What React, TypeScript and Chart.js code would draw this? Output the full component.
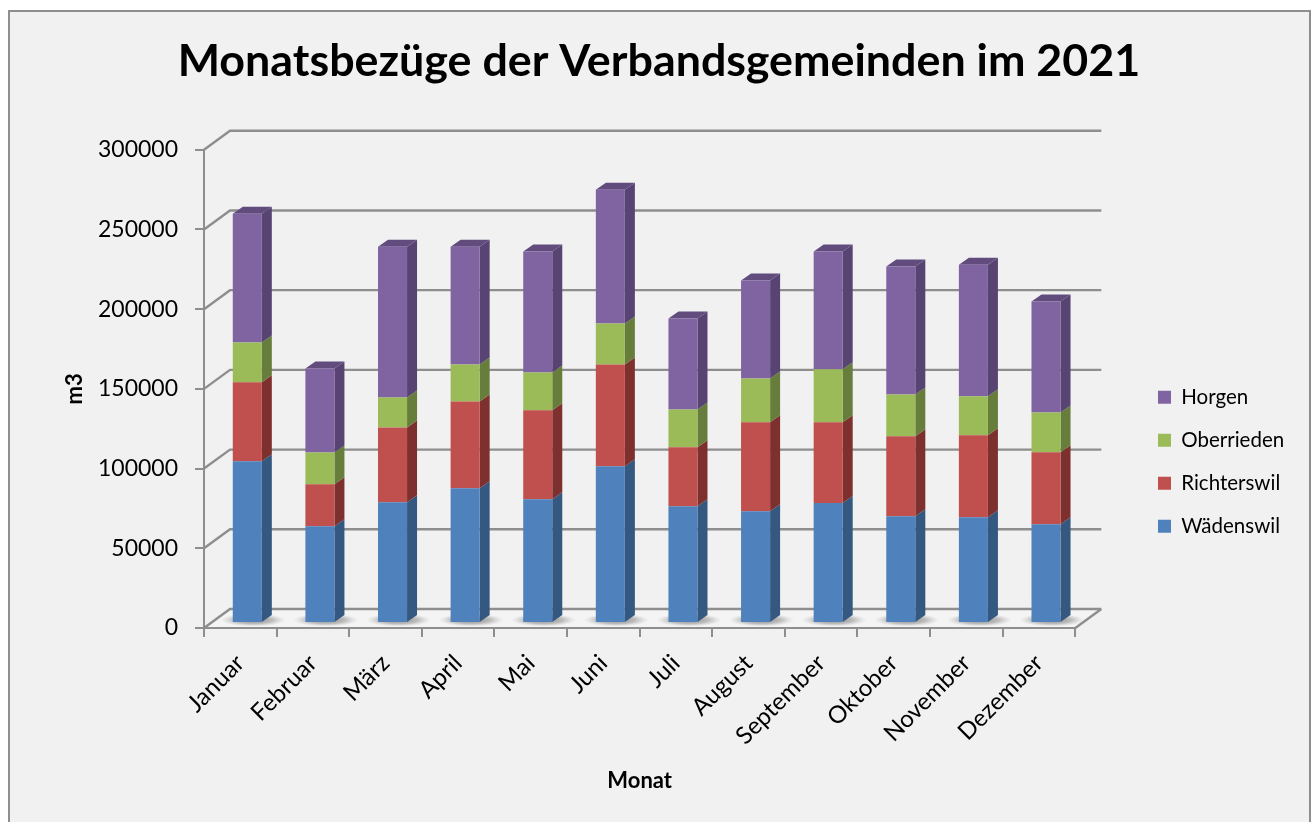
import React, { useEffect, useRef } from "react";
import { Chart, registerables } from "chart.js";

Chart.register(...registerables);

const months = ["Januar", "Februar", "März", "April", "Mai", "Juni", "Juli", "August", "September", "Oktober", "November", "Dezember"];
const waedenswil = [101500, 60700, 75800, 84500, 77600, 98300, 73300, 70100, 75200, 67000, 66400, 62000];
const richterswil = [49500, 26300, 46900, 54500, 55800, 63900, 36900, 55800, 50700, 50100, 51300, 45100];
const oberrieden = [25000, 20000, 18800, 23200, 23800, 25700, 23800, 27500, 33200, 26300, 24500, 25000];
const horgen = [80800, 52700, 94500, 73800, 75800, 83900, 57000, 61400, 73900, 80200, 82600, 69600];

const seriesNames = ["Wädenswil", "Richterswil", "Oberrieden", "Horgen"];
const faceColors = ["#4f81bd", "#c0504d", "#9bbb59", "#8064a2"];
const sideColors = ["#34587f", "#7e302e", "#677d3b", "#574472"];
const topColor = "#624c7e";

const FONT = "Lato";
const GRID = "#8e8e8e";
const BG = "#f1f1f1";
const WALL_DX = 26, WALL_DY = 19;
const BAR_DX = 7, BAR_DY = 5;
const SIDE_DX = 10, SIDE_DY = 7;

const scene3d = {
  id: "scene3d",
  beforeDraw(chart: any) {
    const { ctx, chartArea: a, scales } = chart;
    ctx.save();
    ctx.fillStyle = "#ffffff";
    ctx.fillRect(0, 0, chart.width, chart.height);
    ctx.fillStyle = BG;
    ctx.strokeStyle = "#8f8f8f";
    ctx.lineWidth = 2;
    ctx.beginPath();
    ctx.rect(9, 11, 1301, 830);
    ctx.fill();
    ctx.stroke();

    // floor
    ctx.beginPath();
    ctx.moveTo(a.left, a.bottom);
    ctx.lineTo(a.left + WALL_DX, a.bottom - WALL_DY);
    ctx.lineTo(a.right + WALL_DX, a.bottom - WALL_DY);
    ctx.lineTo(a.right, a.bottom);
    ctx.closePath();
    ctx.fillStyle = "#f4f4f4";
    ctx.fill();
    ctx.save();
    ctx.clip();
    // soft shadows on the floor, one per bar
    const meta0 = chart.getDatasetMeta(0);
    meta0.data.forEach((bar: any) => {
      const p = bar.getProps(["x", "width", "base"], true);
      const cx = p.x + BAR_DX + 6;
      const cy = p.base - BAR_DY - 2;
      const rx = p.width * 1.12;
      const ry = 6.5;
      ctx.save();
      ctx.translate(cx, cy);
      ctx.scale(rx, ry);
      const g = ctx.createRadialGradient(0, 0, 0.1, 0, 0, 1);
      g.addColorStop(0, "rgba(120,120,120,0.8)");
      g.addColorStop(0.55, "rgba(135,135,135,0.5)");
      g.addColorStop(0.8, "rgba(150,150,150,0.2)");
      g.addColorStop(1, "rgba(170,170,170,0)");
      ctx.fillStyle = g;
      ctx.beginPath();
      ctx.arc(0, 0, 1, 0, Math.PI * 2);
      ctx.fill();
      ctx.restore();
    });
    ctx.restore();

    // back wall gridlines with their diagonals
    ctx.strokeStyle = GRID;
    ctx.lineWidth = 2.4;
    const y = scales.y;
    y.ticks.forEach((t: any) => {
      const py = y.getPixelForValue(t.value);
      ctx.beginPath();
      ctx.moveTo(a.left, py);
      ctx.lineTo(a.left + WALL_DX, py - WALL_DY);
      ctx.lineTo(a.right + WALL_DX, py - WALL_DY);
      ctx.stroke();
    });
    // right floor edge
    ctx.beginPath();
    ctx.moveTo(a.right, a.bottom);
    ctx.lineTo(a.right + WALL_DX, a.bottom - WALL_DY);
    ctx.stroke();
    ctx.restore();
  },
  beforeDatasetsDraw(chart: any) {
    const { ctx } = chart;
    ctx.save();
    ctx.translate(BAR_DX, -BAR_DY);
    const last = chart.data.datasets.length - 1;
    chart.data.datasets.forEach((_: any, i: number) => {
      const meta = chart.getDatasetMeta(i);
      meta.data.forEach((bar: any) => {
        const p = bar.getProps(["x", "y", "base", "width"], true);
        const l = p.x - p.width / 2;
        const r = p.x + p.width / 2;
        ctx.fillStyle = sideColors[i];
        ctx.beginPath();
        ctx.moveTo(r, p.y);
        ctx.lineTo(r + SIDE_DX, p.y - SIDE_DY);
        ctx.lineTo(r + SIDE_DX, p.base - SIDE_DY);
        ctx.lineTo(r, p.base);
        ctx.closePath();
        ctx.fill();
        if (i === last) {
          ctx.fillStyle = topColor;
          ctx.beginPath();
          ctx.moveTo(l, p.y);
          ctx.lineTo(l + SIDE_DX, p.y - SIDE_DY);
          ctx.lineTo(r + SIDE_DX, p.y - SIDE_DY);
          ctx.lineTo(r, p.y);
          ctx.closePath();
          ctx.fill();
        }
      });
    });
  },
  afterDatasetsDraw(chart: any) {
    chart.ctx.restore();
  },
  afterLayout(chart: any) {
    const lg = chart.legend;
    if (lg) {
      const w = lg.right - lg.left;
      const h = lg.bottom - lg.top;
      lg.left = 1158 - lg.options.labels.padding;
      lg.right = lg.left + w;
      lg.top = 387 - lg.options.labels.padding;
      lg.bottom = lg.top + h;
    }
    const tb = chart.titleBlock;
    if (tb) {
      tb.left += 11;
      tb.right += 11;
    }
  },
};

export default function App() {
  const ref = useRef<HTMLCanvasElement | null>(null);
  useEffect(() => {
    document.body.style.margin = "0";
    const values = [waedenswil, richterswil, oberrieden, horgen];
    const chart = new Chart(ref.current as HTMLCanvasElement, {
      type: "bar",
      data: {
        labels: months,
        datasets: seriesNames.map((name, i) => ({
          label: name,
          data: values[i],
          backgroundColor: faceColors[i],
          borderWidth: 0,
          barPercentage: 0.4,
          categoryPercentage: 1,
          clip: false as any,
        })),
      },
      options: {
        responsive: false,
        animation: false,
        layout: { padding: { left: 62, right: 81, top: 35, bottom: 28 } },
        plugins: {
          tooltip: { enabled: false },
          title: {
            display: true,
            text: "Monatsbezüge der Verbandsgemeinden im 2021",
            color: "#000000",
            font: { family: FONT, size: 44.8, weight: "bold" },
            padding: { top: 0, bottom: 61 },
          },
          legend: {
            display: true,
            position: "right",
            align: "start",
            reverse: true,
            labels: {
              boxWidth: 13,
              boxHeight: 13,
              padding: 22.5,
              color: "#000000",
              font: { family: FONT, size: 20.5 },
            },
          },
        },
        scales: {
          x: {
            stacked: true,
            grid: { display: true, drawOnChartArea: false, drawTicks: true, tickLength: 9, color: GRID, lineWidth: 2, offset: true },
            border: { display: true, color: GRID, width: 2 },
            ticks: { color: "#000000", font: { family: FONT, size: 24 }, maxRotation: 45, minRotation: 45, autoSkip: false, padding: 12 },
            title: { display: true, text: "Monat", color: "#000000", font: { family: FONT, size: 22, weight: "bold" }, padding: 0 },
            afterFit(s: any) { s.height = 166; },
          },
          y: {
            stacked: true,
            min: 0,
            max: 300000,
            grid: { display: true, drawOnChartArea: false, drawTicks: true, tickLength: 9, color: GRID, lineWidth: 2 },
            border: { display: true, color: GRID, width: 2 },
            ticks: { stepSize: 50000, color: "#000000", font: { family: FONT, size: 23 }, padding: 17, callback: (v: any) => String(v) },
            title: { display: true, text: "m3", color: "#000000", font: { family: FONT, size: 22, weight: "bold" }, padding: 0 },
            afterFit(s: any) { s.width = 142; },
          },
        },
      },
      plugins: [scene3d],
    } as any);
    return () => chart.destroy();
  }, []);
  return (
    <div style={{ position: "absolute", left: 0, top: 0, width: 1315, height: 822, overflow: "hidden" }}>
      <canvas ref={ref} width={1315} height={822} style={{ display: "block" }} />
    </div>
  );
}
